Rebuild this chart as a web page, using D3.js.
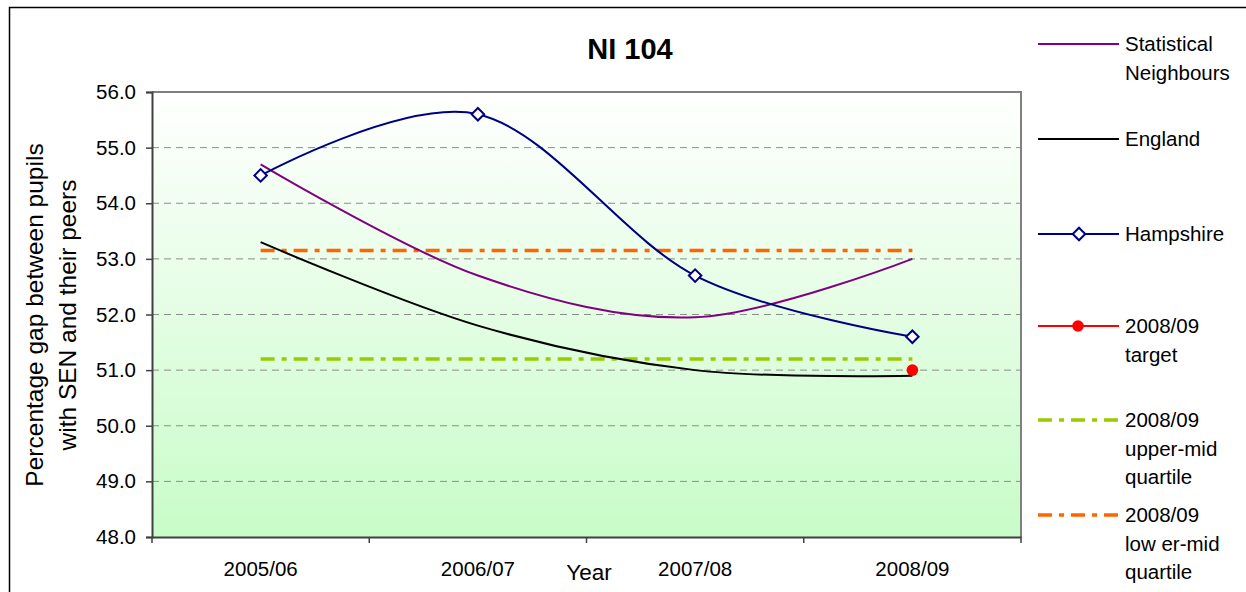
<!DOCTYPE html>
<html>
<head>
<meta charset="utf-8">
<script src="https://cdn.jsdelivr.net/npm/d3@7"></script>
<style>
  body { margin: 0; background: #fff; }
  svg { display: block; font-family: "Liberation Sans", Arial, sans-serif; }
</style>
</head>
<body>
<div id="chart"></div>
<script>
const years = ["2005/06", "2006/07", "2007/08", "2008/09"];
const statNeighbours = [54.7, 52.7, 51.95, 53.0];
const england = [53.3, 51.8, 51.0, 50.9];
const hampshire = [54.5, 55.6, 52.7, 51.6];
const target = [{ year: "2008/09", value: 51.0 }];
const upperMid = [51.2, 51.2, 51.2, 51.2];
const lowerMid = [53.15, 53.15, 53.15, 53.15];
const yTicks = [48, 49, 50, 51, 52, 53, 54, 55, 56];

const width = 1246;
const height = 592;
const plot = { l: 152, r: 1021, t: 92, b: 537 };
const dashDot = "14,7,5,7";

const svg = d3
  .select("#chart")
  .append("svg")
  .attr("width", width)
  .attr("height", height);

// outer chart border
svg
  .append("rect")
  .attr("x", 9.5)
  .attr("y", 7.5)
  .attr("width", 1300)
  .attr("height", 700)
  .attr("fill", "#fff")
  .attr("stroke", "#000")
  .attr("stroke-width", 1.5);

const x = d3.scaleBand().domain(years).range([plot.l, plot.r]).padding(0);
const cx = (d) => x(d) + x.bandwidth() / 2;
const y = d3.scaleLinear().domain([48, 56]).range([plot.b, plot.t]);

const defs = svg.append("defs");
const grad = defs
  .append("linearGradient")
  .attr("id", "bg")
  .attr("x1", 0)
  .attr("y1", 0)
  .attr("x2", 0)
  .attr("y2", 1);
grad.append("stop").attr("offset", "0%").attr("stop-color", "#ffffff");
grad.append("stop").attr("offset", "100%").attr("stop-color", "#c8fcc8");

svg
  .append("rect")
  .attr("x", plot.l)
  .attr("y", plot.t)
  .attr("width", plot.r - plot.l)
  .attr("height", plot.b - plot.t)
  .attr("fill", "url(#bg)");

// gridlines
svg
  .append("g")
  .selectAll("line")
  .data(yTicks.filter((d) => d > 48 && d < 56))
  .enter()
  .append("line")
  .attr("x1", plot.l)
  .attr("x2", plot.r)
  .attr("y1", (d) => y(d))
  .attr("y2", (d) => y(d))
  .attr("stroke", "#8c8c8c")
  .attr("stroke-width", 1)
  .attr("stroke-dasharray", "7,5");

// top + right frame
svg
  .append("path")
  .attr("d", `M${plot.l},${plot.t}H${plot.r}V${plot.b}`)
  .attr("fill", "none")
  .attr("stroke", "#808080")
  .attr("stroke-width", 2);

// y axis
const yAxis = svg
  .append("g")
  .attr("transform", `translate(${plot.l},0)`)
  .call(
    d3.axisLeft(y).tickValues(yTicks).tickFormat(d3.format(".1f")).tickSize(6).tickPadding(10)
  );
yAxis.select(".domain").attr("stroke", "#404040").attr("stroke-width", 2);
yAxis.selectAll(".tick line").attr("stroke", "#404040").attr("stroke-width", 1.5);
yAxis
  .selectAll("text")
  .style("font-family", "Liberation Sans, Arial")
  .style("font-size", "20.5px")
  .attr("fill", "#000");

// x axis
const xAxis = svg
  .append("g")
  .attr("transform", `translate(0,${plot.b})`)
  .call(d3.axisBottom(x).tickSize(0).tickPadding(24));
xAxis.select(".domain").attr("stroke", "#404040").attr("stroke-width", 2);
xAxis
  .selectAll("text")
  .style("font-family", "Liberation Sans, Arial")
  .style("font-size", "20.5px")
  .attr("fill", "#000");

svg
  .append("g")
  .selectAll("line")
  .data(years.map((d) => x(d)).concat([plot.r]))
  .enter()
  .append("line")
  .attr("x1", (d) => d)
  .attr("x2", (d) => d)
  .attr("y1", plot.b)
  .attr("y2", plot.b + 6)
  .attr("stroke", "#404040")
  .attr("stroke-width", 1.5);

// titles
svg
  .append("text")
  .attr("x", 630)
  .attr("y", 59)
  .attr("text-anchor", "middle")
  .style("font-size", "29px")
  .style("font-weight", "bold")
  .text("NI 104");

svg
  .append("text")
  .attr("x", 589)
  .attr("y", 580)
  .attr("text-anchor", "middle")
  .style("font-size", "22.5px")
  .text("Year");

const yTitle = ["Percentage gap between pupils", "with SEN and their peers"];
svg
  .append("g")
  .selectAll("text")
  .data(yTitle)
  .enter()
  .append("text")
  .attr("transform", (d, i) => `translate(${43 + i * 33},315) rotate(-90)`)
  .attr("text-anchor", "middle")
  .style("font-size", "24.5px")
  .text((d) => d);

// series
const smooth = d3
  .line()
  .x((d, i) => cx(years[i]))
  .y((d) => y(d))
  .curve(d3.curveCardinal.tension(0));

const straight = d3
  .line()
  .x((d, i) => cx(years[i]))
  .y((d) => y(d));

svg
  .append("path")
  .attr("d", straight(upperMid))
  .attr("fill", "none")
  .attr("stroke", "#99cc00")
  .attr("stroke-width", 3.5)
  .attr("stroke-dasharray", dashDot);

svg
  .append("path")
  .attr("d", straight(lowerMid))
  .attr("fill", "none")
  .attr("stroke", "#ff6600")
  .attr("stroke-width", 3.5)
  .attr("stroke-dasharray", dashDot);

svg
  .append("path")
  .attr("d", smooth(statNeighbours))
  .attr("fill", "none")
  .attr("stroke", "#800080")
  .attr("stroke-width", 2);

svg
  .append("path")
  .attr("d", smooth(england))
  .attr("fill", "none")
  .attr("stroke", "#000000")
  .attr("stroke-width", 2);

svg
  .append("path")
  .attr("d", smooth(hampshire))
  .attr("fill", "none")
  .attr("stroke", "#000080")
  .attr("stroke-width", 2);

const diamond = d3.symbol().type(d3.symbolSquare).size(78);

svg
  .append("g")
  .selectAll("path")
  .data(hampshire)
  .enter()
  .append("path")
  .attr("d", diamond)
  .attr("transform", (d, i) => `translate(${cx(years[i])},${y(d)}) rotate(45)`)
  .attr("fill", "#fff")
  .attr("stroke", "#000080")
  .attr("stroke-width", 2);

svg
  .append("g")
  .selectAll("circle")
  .data(target)
  .enter()
  .append("circle")
  .attr("cx", (d) => cx(d.year))
  .attr("cy", (d) => y(d.value))
  .attr("r", 5.8)
  .attr("fill", "#ff0000");

// legend
const legendItems = [
  { lines: ["Statistical", "Neighbours"], color: "#800080", dash: null, marker: null, y: 44 },
  { lines: ["England"], color: "#000000", dash: null, marker: null, y: 139 },
  { lines: ["Hampshire"], color: "#000080", dash: null, marker: "diamond", y: 234 },
  { lines: ["2008/09", "target"], color: "#ff0000", dash: null, marker: "dot", y: 326 },
  { lines: ["2008/09", "upper-mid", "quartile"], color: "#99cc00", dash: dashDot, marker: null, y: 420 },
  { lines: ["2008/09", "low er-mid", "quartile"], color: "#ff6600", dash: dashDot, marker: null, y: 515 },
];

const legend = svg
  .append("g")
  .selectAll("g")
  .data(legendItems)
  .enter()
  .append("g")
  .attr("transform", (d) => `translate(0,${d.y})`);

legend
  .append("line")
  .attr("x1", 1038)
  .attr("x2", 1119)
  .attr("stroke", (d) => d.color)
  .attr("stroke-width", (d) => (d.dash ? 3.5 : 2))
  .attr("stroke-dasharray", (d) => d.dash);

legend
  .filter((d) => d.marker === "diamond")
  .append("path")
  .attr("d", diamond)
  .attr("transform", "translate(1079,0) rotate(45)")
  .attr("fill", "#fff")
  .attr("stroke", (d) => d.color)
  .attr("stroke-width", 2);

legend
  .filter((d) => d.marker === "dot")
  .append("circle")
  .attr("cx", 1078)
  .attr("r", 5.8)
  .attr("fill", (d) => d.color);

legend
  .selectAll("text")
  .data((d) => d.lines)
  .enter()
  .append("text")
  .attr("x", 1125)
  .attr("y", (d, i) => 7 + i * 28.5)
  .style("font-size", "20.5px")
  .text((d) => d);
</script>
</body>
</html>
